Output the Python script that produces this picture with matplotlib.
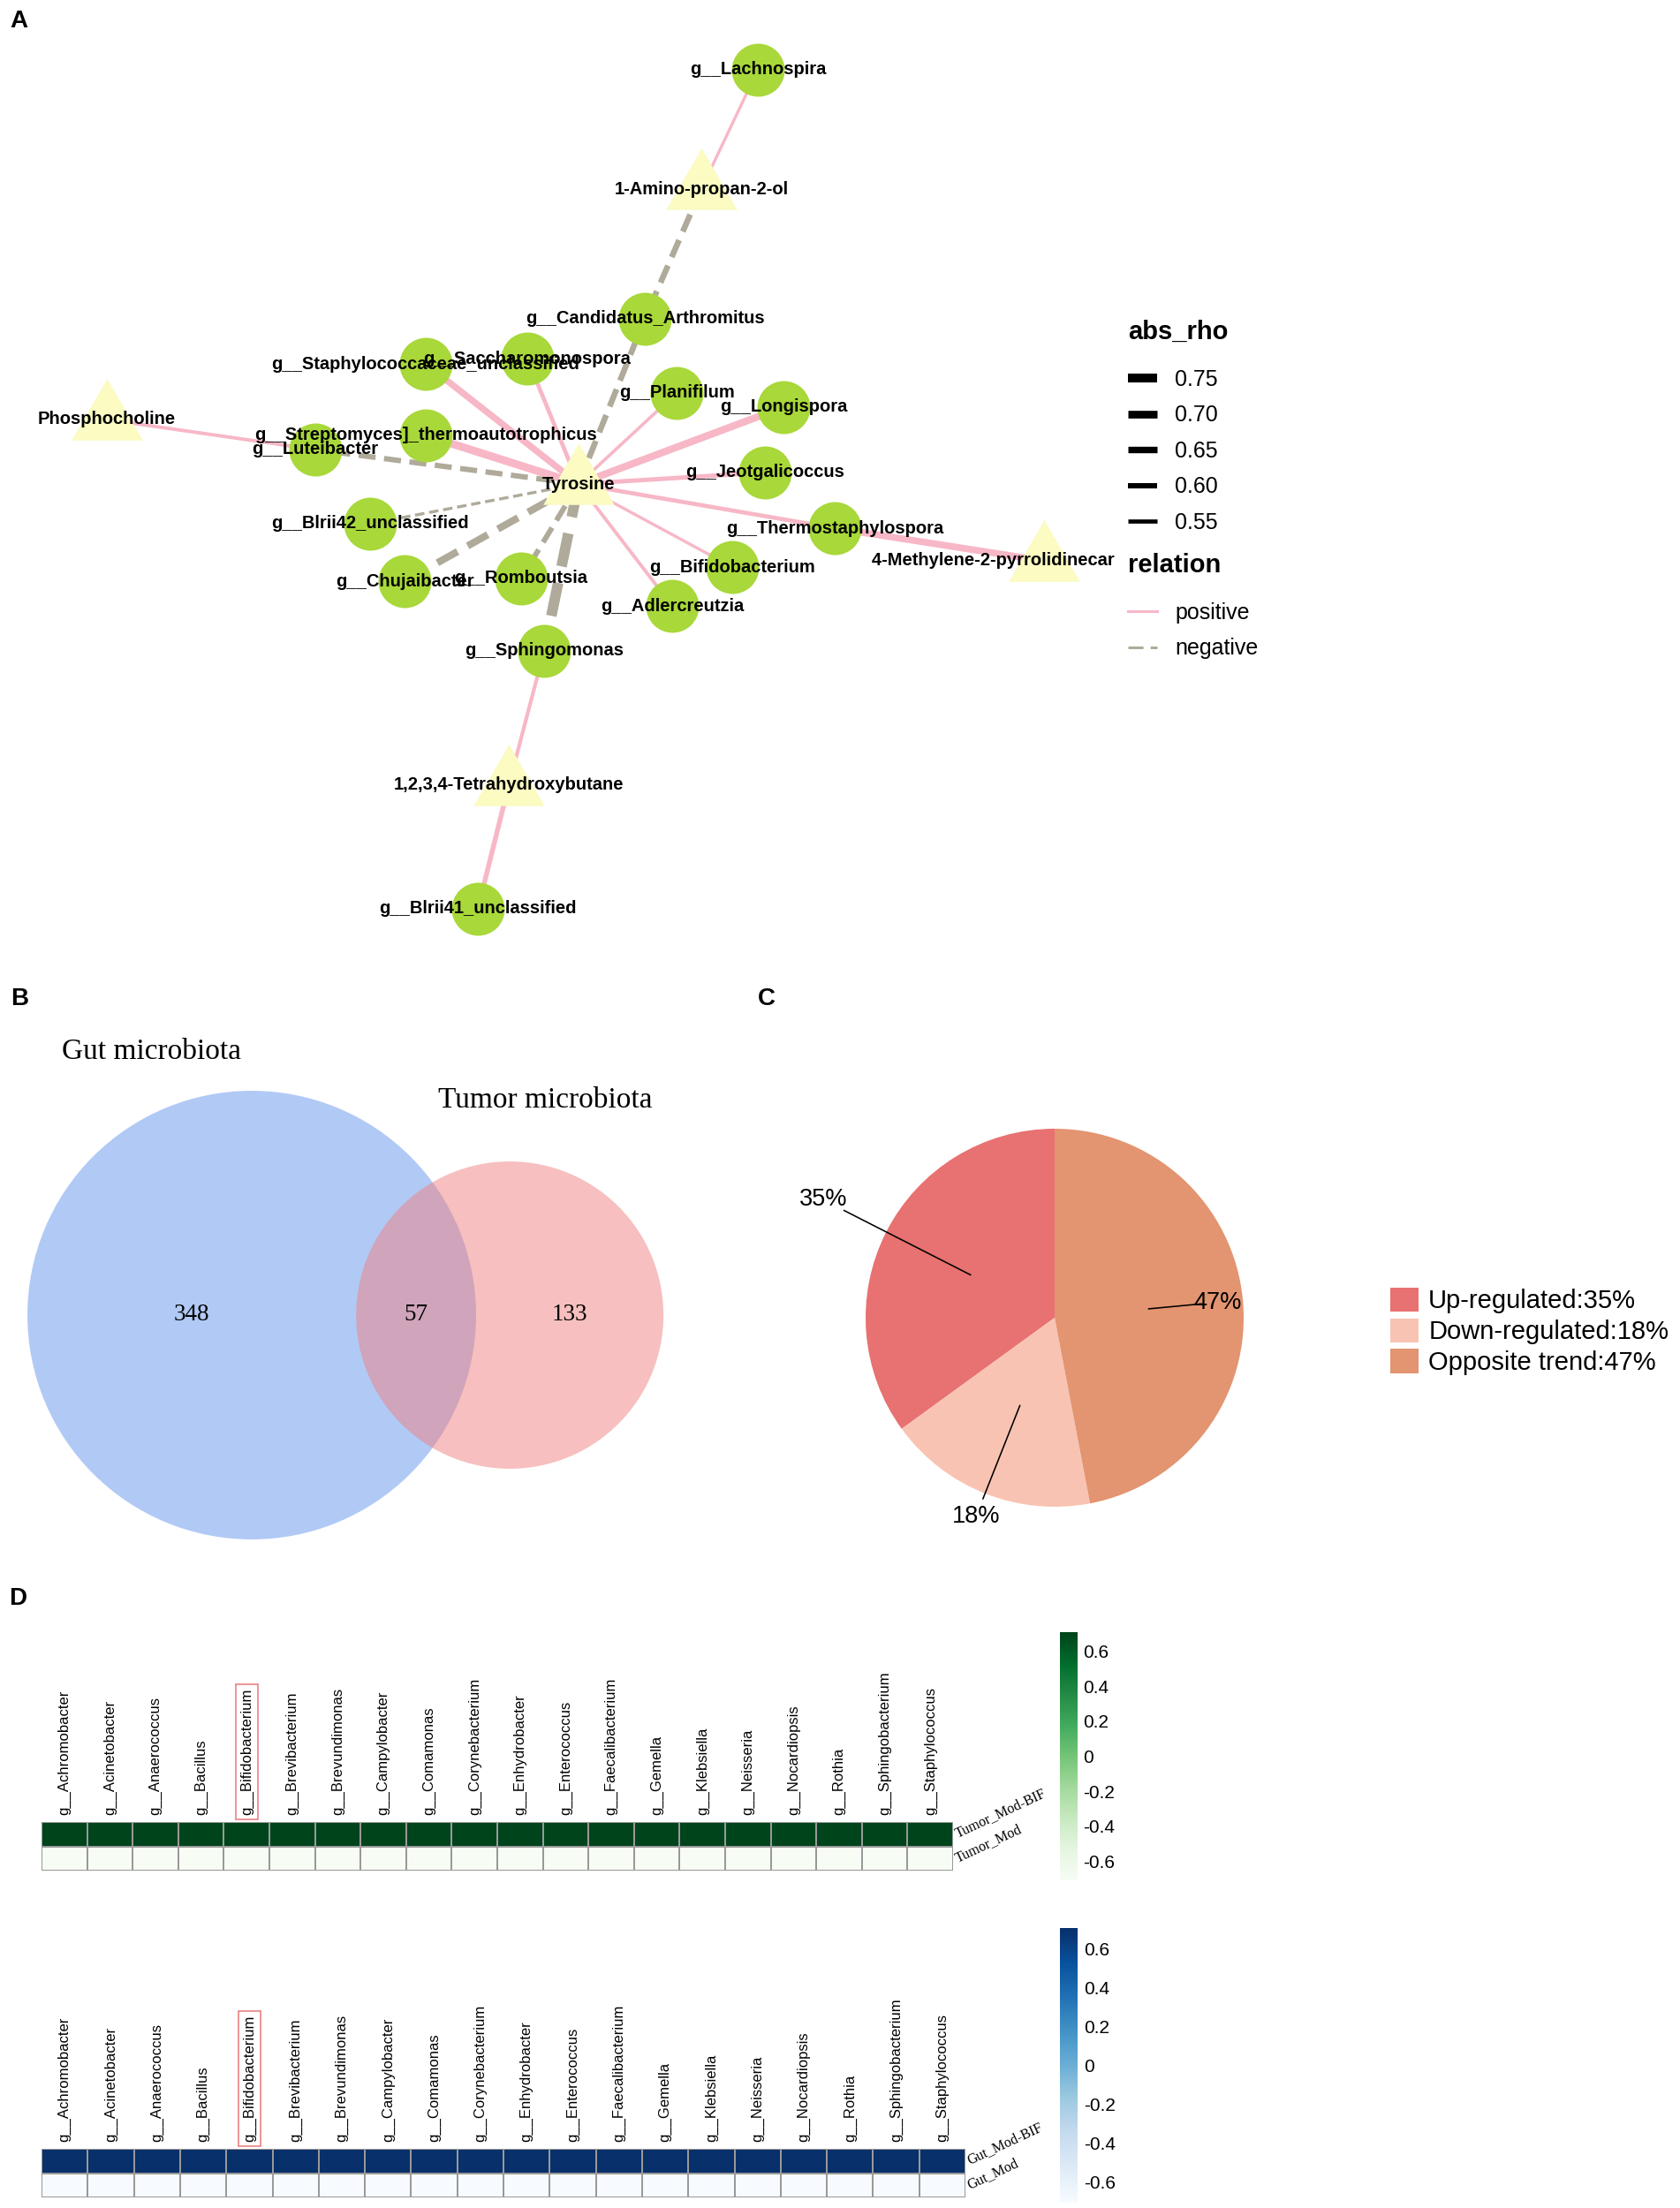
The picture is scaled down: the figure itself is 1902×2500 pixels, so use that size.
import numpy as np
import matplotlib
matplotlib.use('Agg')
import matplotlib.pyplot as plt
from matplotlib.lines import Line2D
from matplotlib.path import Path
from matplotlib.patches import Circle, Rectangle
from matplotlib.transforms import IdentityTransform

plt.rcParams['font.family'] = ['Liberation Sans', 'DejaVu Sans']

W, H = 1902, 2500          # figure size in pixels (dpi 100)
PT = 72 / 100              # pixels -> points

# ---------------- A: correlation network ----------------
node_names = ['g__Lachnospira', '1-Amino-propan-2-ol', 'g__Candidatus_Arthromitus',
              'g__Saccharomonospora', 'g__Staphylococcaceae_unclassified', 'g__Planifilum',
              'g__Longispora', 'Phosphocholine', 'g__Streptomyces]_thermoautotrophicus',
              'g__Luteibacter', 'Tyrosine', 'g__Jeotgalicoccus', 'g__Blrii42_unclassified',
              'g__Thermostaphylospora', '4-Methylene-2-pyrrolidinecarboxylic acid',
              'g__Bifidobacterium', 'g__Chujaibacter', 'g__Romboutsia', 'g__Adlercreutzia',
              'g__Sphingomonas', '1,2,3,4-Tetrahydroxybutane', 'g__Blrii41_unclassified']
# layout coordinates of the nodes
node_x = [858, 794, 730, 597, 482, 766, 887, 121, 482, 357, 655, 866, 419, 945, 1182,
          829, 458, 590, 761, 616, 576, 541]
node_y = [79, 214, 361, 406, 412, 445, 461, 475, 493, 509, 548, 535, 593, 598, 635,
          642, 658, 655, 686, 737, 889, 1029]

edge_a = ['1-Amino-propan-2-ol', '1-Amino-propan-2-ol', 'Tyrosine', 'Tyrosine', 'Tyrosine',
          'Tyrosine', 'Tyrosine', 'Tyrosine', 'Tyrosine', 'Phosphocholine', 'Tyrosine',
          'Tyrosine', '4-Methylene-2-pyrrolidinecarboxylic acid', 'Tyrosine', 'Tyrosine',
          'Tyrosine', 'Tyrosine', 'Tyrosine', 'Tyrosine', '1,2,3,4-Tetrahydroxybutane',
          '1,2,3,4-Tetrahydroxybutane']
edge_b = ['g__Lachnospira', 'g__Candidatus_Arthromitus', 'g__Candidatus_Arthromitus',
          'g__Saccharomonospora', 'g__Staphylococcaceae_unclassified', 'g__Planifilum',
          'g__Longispora', 'g__Streptomyces]_thermoautotrophicus', 'g__Luteibacter',
          'g__Luteibacter', 'g__Jeotgalicoccus', 'g__Thermostaphylospora',
          'g__Thermostaphylospora', 'g__Bifidobacterium', 'g__Adlercreutzia',
          'g__Blrii42_unclassified', 'g__Chujaibacter', 'g__Romboutsia', 'g__Sphingomonas',
          'g__Sphingomonas', 'g__Blrii41_unclassified']
edge_rho = [0.50, 0.62, 0.62, 0.55, 0.65, 0.51, 0.68, 0.71, 0.60, 0.52, 0.56,
            0.55, 0.66, 0.50, 0.52, 0.50, 0.68, 0.60, 0.82, 0.53, 0.58]
edge_relation = ['positive', 'negative', 'negative', 'positive', 'positive', 'positive',
                 'positive', 'positive', 'negative', 'positive', 'positive', 'positive',
                 'positive', 'positive', 'positive', 'negative', 'negative', 'negative',
                 'negative', 'positive', 'positive']
width_breaks = [0.75, 0.70, 0.65, 0.60, 0.55]

# ---------------- B: Venn ----------------
set_names = ['Gut microbiota', 'Tumor microbiota']
gut_only, shared, tumor_only = 348, 57, 133

# ---------------- C: pie ----------------
pie_labels = ['Up-regulated', 'Down-regulated', 'Opposite trend']
pie_values = [35, 18, 47]

# ---------------- D: heatmaps ----------------
genera = ['g__Achromobacter', 'g__Acinetobacter', 'g__Anaerococcus', 'g__Bacillus',
          'g__Bifidobacterium', 'g__Brevibacterium', 'g__Brevundimonas', 'g__Campylobacter',
          'g__Comamonas', 'g__Corynebacterium', 'g__Enhydrobacter', 'g__Enterococcus',
          'g__Faecalibacterium', 'g__Gemella', 'g__Klebsiella', 'g__Neisseria',
          'g__Nocardiopsis', 'g__Rothia', 'g__Sphingobacterium', 'g__Staphylococcus']
tumor_rows = ['Tumor_Mod-BIF', 'Tumor_Mod']
tumor_mod_bif = [0.707, 0.707, 0.707, 0.707, 0.707, 0.707, 0.707, 0.707, 0.707, 0.707,
                 0.707, 0.707, 0.707, 0.707, 0.707, 0.707, 0.707, 0.707, 0.707, 0.707]
tumor_mod = [-0.707, -0.707, -0.707, -0.707, -0.707, -0.707, -0.707, -0.707, -0.707, -0.707,
             -0.707, -0.707, -0.707, -0.707, -0.707, -0.707, -0.707, -0.707, -0.707, -0.707]
gut_rows = ['Gut_Mod-BIF', 'Gut_Mod']
gut_mod_bif = [0.707, 0.707, 0.707, 0.707, 0.707, 0.707, 0.707, 0.707, 0.707, 0.707,
               0.707, 0.707, 0.707, 0.707, 0.707, 0.707, 0.707, 0.707, 0.707, 0.707]
gut_mod = [-0.707, -0.707, -0.707, -0.707, -0.707, -0.707, -0.707, -0.707, -0.707, -0.707,
           -0.707, -0.707, -0.707, -0.707, -0.707, -0.707, -0.707, -0.707, -0.707, -0.707]
cbar_ticks = [0.6, 0.4, 0.2, 0, -0.2, -0.4, -0.6]


fig = plt.figure(figsize=(W / 100, H / 100), dpi=100)


def px_axes(x0, y0, w, h, pixel_data=True):
    """axes placed in figure pixels (origin top left)"""
    ax = fig.add_axes([x0 / W, 1 - (y0 + h) / H, w / W, h / H])
    if pixel_data:
        ax.set_xlim(x0, x0 + w)
        ax.set_ylim(y0 + h, y0)
    ax.axis('off')
    return ax


def rho_to_lw(rho):
    return (4.7 + (rho - 0.55) * 26.7) * PT


for letter, lx, ly in [('A', 11, 24), ('B', 12, 1131), ('C', 858, 1131), ('D', 10, 1810)]:
    fig.text(lx / W, 1 - ly / H, letter, ha='left', va='center', fontsize=20, fontweight='bold')

# ---- panel A ----
axA = px_axes(0, 0, 1263, 1100)
pos = {n: (x, y) for n, x, y in zip(node_names, node_x, node_y)}
rel_color = {'positive': '#F7B7C6', 'negative': '#AFAA9A'}

for a, b, rho, rel in zip(edge_a, edge_b, edge_rho, edge_relation):
    (x1, y1), (x2, y2) = pos[a], pos[b]
    line, = axA.plot([x1, x2], [y1, y2], color=rel_color[rel], lw=rho_to_lw(rho),
                     solid_capstyle='butt', dash_capstyle='butt', zorder=1)
    if rel == 'negative':
        line.set_dashes((3.2, 1.6))

tri = Path([(0, 1), (-0.866, -0.5), (0.866, -0.5), (0, 1)],
           [Path.MOVETO, Path.LINETO, Path.LINETO, Path.CLOSEPOLY])
is_microbe = np.array([n.startswith('g__') for n in node_names])
nx, ny = np.array(node_x), np.array(node_y)
axA.scatter(nx[is_microbe], ny[is_microbe], s=(60 * PT) ** 2, marker='o',
            color='#A8D839', linewidths=0, zorder=2)
axA.scatter(nx[~is_microbe], ny[~is_microbe], s=(93 * PT) ** 2, marker=tri,
            color='#FBFBC2', linewidths=0, zorder=2)
for n, x, y in zip(node_names, node_x, node_y):
    axA.text(x, y, n, ha='center', va='center', fontsize=14.5, fontweight='bold',
             zorder=3, clip_on=True)

legend_kw = dict(loc='upper left', frameon=False, fontsize=18,
                 title_fontproperties={'weight': 'bold', 'size': 21}, alignment='left',
                 handlelength=1.32, handletextpad=0.8, labelspacing=0.66,
                 borderpad=0, borderaxespad=0)
h_width = [Line2D([], [], color='black', lw=rho_to_lw(b), solid_capstyle='butt')
           for b in width_breaks]
leg1 = fig.legend(h_width, [f'{b:.2f}' for b in width_breaks], title='abs_rho',
                  bbox_to_anchor=(1277 / W, 1 - 362 / H), **legend_kw)
neg_handle = Line2D([], [], color=rel_color['negative'], lw=3 * PT, dash_capstyle='butt')
neg_handle.set_dashes((5.7, 2.7))
h_rel = [Line2D([], [], color=rel_color['positive'], lw=3 * PT), neg_handle]
leg2 = fig.legend(h_rel, ['positive', 'negative'], title='relation',
                  bbox_to_anchor=(1277 / W, 1 - 626 / H), **legend_kw)
for leg in (leg1, leg2):
    leg._legend_box.sep = 20  # a little more room under the legend titles

# ---- panel B: area proportional Venn ----
axB = px_axes(0, 1150, 950, 640)
SCALE = 12.62  # pixels per sqrt(count)
r_gut = SCALE * np.sqrt(gut_only + shared)
r_tum = SCALE * np.sqrt(tumor_only + shared)


def lens_area(d, r1, r2):
    a1 = r1 ** 2 * np.arccos((d ** 2 + r1 ** 2 - r2 ** 2) / (2 * d * r1))
    a2 = r2 ** 2 * np.arccos((d ** 2 + r2 ** 2 - r1 ** 2) / (2 * d * r2))
    k = np.sqrt((-d + r1 + r2) * (d + r1 - r2) * (d - r1 + r2) * (d + r1 + r2))
    return a1 + a2 - 0.5 * k


target = np.pi * SCALE ** 2 * shared
lo, hi = r_gut - r_tum + 1e-6, r_gut + r_tum - 1e-6
for _ in range(80):
    mid = (lo + hi) / 2
    if lens_area(mid, r_gut, r_tum) > target:
        lo = mid
    else:
        hi = mid
dist = (lo + hi) / 2
cx_gut, cy = 285, 1489
cx_tum = cx_gut + dist
axB.add_patch(Circle((cx_gut, cy), r_gut, facecolor='cornflowerblue', alpha=0.5, lw=0))
axB.add_patch(Circle((cx_tum, cy), r_tum, facecolor='lightcoral', alpha=0.5, lw=0))
serif = 'Liberation Serif'
axB.text(((cx_gut - r_gut) + (cx_tum - r_tum)) / 2, cy, str(gut_only), ha='center',
         va='center', family=serif, fontsize=19.5)
axB.text(((cx_tum - r_tum) + (cx_gut + r_gut)) / 2, cy, str(shared), ha='center',
         va='center', family=serif, fontsize=19.5)
axB.text(((cx_gut + r_gut) + (cx_tum + r_tum)) / 2, cy, str(tumor_only), ha='center',
         va='center', family=serif, fontsize=19.5)
axB.text(70, 1191, set_names[0], ha='left', va='center', family=serif, fontsize=24)
axB.text(496, 1246, set_names[1], ha='left', va='center', family=serif, fontsize=24)

# ---- panel C: pie ----
R_PIE = 214
axC = px_axes(1194 - 420, 1492 - 420, 840, 840, pixel_data=False)
pie_colors = ['#E87171', '#F9C3B3', '#E39470']
wedges, _ = axC.pie(pie_values, colors=pie_colors, startangle=90, counterclock=True,
                    wedgeprops=dict(linewidth=0))
axC.set_xlim(-420 / R_PIE, 420 / R_PIE)
axC.set_ylim(-420 / R_PIE, 420 / R_PIE)
line_end_r = [1.25, 1.03, 0.78]
text_r = [1.375, 1.13, 0.865]
frac = np.array(pie_values) / sum(pie_values)
mid_ang = np.deg2rad(90 + 360 * (np.cumsum(frac) - frac / 2))
for ang, le, tr, v in zip(mid_ang, line_end_r, text_r, pie_values):
    axC.text(tr * np.cos(ang), tr * np.sin(ang), f'{v}%', ha='center', va='center',
             fontsize=19.5)
    axC.plot([0.5 * np.cos(ang), le * np.cos(ang)], [0.5 * np.sin(ang), le * np.sin(ang)],
             color='black', lw=1.6 * PT)
fig.legend(wedges, [f'{l}:{v}%' for l, v in zip(pie_labels, pie_values)],
           loc='upper left', bbox_to_anchor=(1574 / W, 1 - 1458 / H), frameon=False,
           fontsize=21, handlelength=1.08, handleheight=1.05, labelspacing=0.18,
           handletextpad=0.4, borderpad=0, borderaxespad=0)


# ---- panel D: heatmaps ----
def heatmap(x0, y0, w, h, rows, values, cmap, cbar_box):
    ax = fig.add_axes([x0 / W, 1 - (y0 + h) / H, w / W, h / H])
    mesh = ax.pcolormesh(np.array(values), cmap=cmap, vmin=-0.707, vmax=0.707,
                         edgecolors='#999999', linewidth=1.2)
    ax.set_xlim(0, len(genera))
    ax.set_ylim(len(rows), 0)
    ax.set_xticks(np.arange(len(genera)) + 0.5, genera, rotation=90, fontsize=12)
    ax.set_yticks([])
    ax.xaxis.tick_top()
    ax.tick_params(axis='x', length=0, pad=5.5)
    for s in ax.spines.values():
        s.set_visible(False)
    for i, r in enumerate(rows):
        ax.text(1 + 3 / w, i + 0.5, r, transform=ax.get_yaxis_transform(), ha='left',
                va='center', rotation=25, rotation_mode='anchor', family=serif,
                fontsize=11.5)
    cx0, cy0, cw, ch = cbar_box
    cax = fig.add_axes([cx0 / W, 1 - (cy0 + ch) / H, cw / W, ch / H])
    cb = fig.colorbar(mesh, cax=cax, ticks=cbar_ticks)
    cb.outline.set_visible(False)
    cb.set_ticklabels([f'{t:g}' for t in cbar_ticks])
    cax.tick_params(length=0, labelsize=15, pad=5)
    return ax


axD1 = heatmap(47, 2063, 1032, 55, tumor_rows, [tumor_mod_bif, tumor_mod], 'Greens',
               (1200, 1848, 19.5, 281))
axD2 = heatmap(47, 2433, 1046, 55, gut_rows, [gut_mod_bif, gut_mod], 'Blues',
               (1200, 2183, 20, 311))

# red frame around the Bifidobacterium label
fig.canvas.draw()
for ax in (axD1, axD2):
    lbl = ax.get_xticklabels()[genera.index('g__Bifidobacterium')]
    bb = lbl.get_window_extent()
    pad = 5
    fig.add_artist(Rectangle((bb.x0 - pad, bb.y0 - pad), bb.width + 2 * pad,
                             bb.height + 2 * pad, transform=IdentityTransform(),
                             fill=False, edgecolor='#E8787A', lw=1.1))

fig.savefig('out.png', dpi=100)
